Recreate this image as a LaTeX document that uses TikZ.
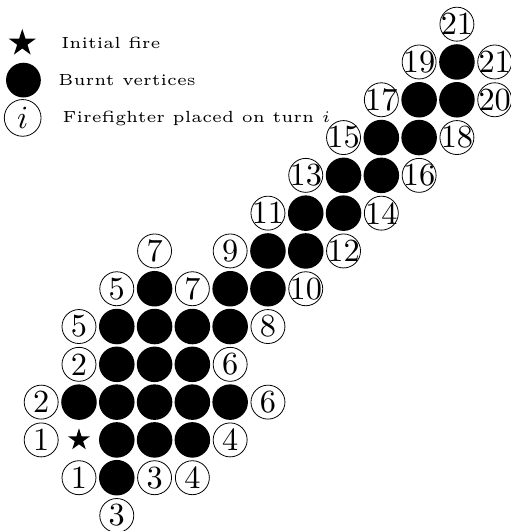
\documentclass[tikz,border=0pt]{standalone}
\usepackage{amsmath}
\usetikzlibrary{shapes.geometric,positioning}

\begin{document}
\begin{tikzpicture}[
    burnt/.style={circle, fill=black, minimum size=0.94cm, inner sep=0pt},
    ff/.style={circle, draw, line width=0.6pt, minimum size=0.37cm, inner sep=0pt, scale=2.43},
    fire/.style={star, star points=5, star point ratio=2.618, fill=black, inner sep=0pt},
    legtext/.style={anchor=base west, inner sep=0pt, font=\tiny, scale=2.43}
]
\useasboundingbox (-2.09,-2.41) rectangle (11.43,11.64);

% Legend
\node[fire, minimum size=0.75cm] (legfire) at (-1.5,10.5) {};
\node[burnt, minimum size=0.92cm] (legburnt) at (-1.47,9.52) {};
\node[ff, minimum size=0.4cm] (legff) at (-1.49,8.52) {$i$};
\node[legtext] (txtfire) at (-0.48,10.36) {Initial fire};
\node[legtext] (txtburnt) at (-0.56,9.37) {Burnt vertices};
\node[legtext] (txtff) at (-0.45,8.39) {Firefighter placed on turn $i$};

% Initial fire
\node[fire, minimum size=0.61cm] (start) at (0,0) {};

% Burnt vertices
\foreach \c/\r in {1/-1, 1/0, 2/0, 3/0, 0/1, 1/1, 2/1, 3/1, 4/1, 1/2, 2/2, 3/2,
    1/3, 2/3, 3/3, 4/3, 2/4, 4/4, 5/4, 5/5, 6/5, 6/6, 7/6, 7/7, 8/7,
    8/8, 9/8, 9/9, 10/9, 10/10}
    \node[burnt] (b-\c-\r) at (\c,\r) {};

% Firefighters
\foreach \c/\r/\t in {1/-2/3, 0/-1/1, 2/-1/3, 3/-1/4, -1/0/1, 4/0/4, -1/1/2, 5/1/6,
    0/2/2, 4/2/6, 0/3/5, 5/3/8, 1/4/5, 3/4/7, 6/4/10, 2/5/7, 4/5/9, 7/5/12,
    5/6/11, 8/6/14, 6/7/13, 9/7/16, 7/8/15, 10/8/18, 8/9/17, 11/9/20,
    9/10/19, 11/10/21, 10/11/21}
    \node[ff] (f-\c-\r) at (\c,\r) {\makebox[0pt]{\t}};

\end{tikzpicture}
\end{document}
